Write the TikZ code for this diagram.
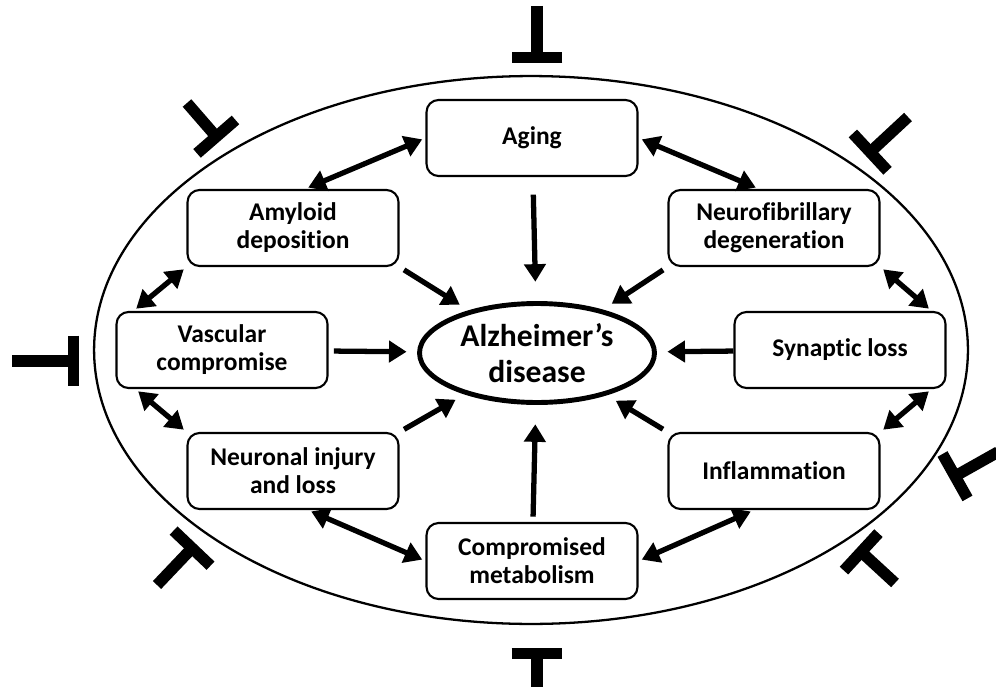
\documentclass[tikz,border=0pt]{standalone}
\usepackage{fontspec}
\setmainfont{Carlito}[Ligatures={TeX,NoCommon}]
\usetikzlibrary{arrows.meta,shapes.geometric}

\tikzset{
  factor/.style={rectangle, draw, rounded corners=0.24cm, line width=1.2pt,
    minimum width=4.22cm, minimum height=1.52cm, align=center,
    font=\fontsize{14.5}{16}\selectfont\bfseries},
  toad/.style={-{Triangle[length=10pt,width=12pt]}, line width=3pt,
    shorten <=3pt, shorten >=6pt},
  mutual/.style={{Triangle[length=10pt,width=12pt]}-{Triangle[length=10pt,width=12pt]},
    line width=3pt, shorten <=2pt, shorten >=2pt},
  block/.style={-{Bar[width=29pt]}, line width=6.5pt},
}

\begin{document}
\begin{tikzpicture}[x=0.02cm,y=-0.02cm]
	\useasboundingbox (0,0) rectangle (996,686);

	\node (field) at (531,350) [ellipse, draw, line width=1.3pt, inner sep=0pt,
		minimum width=17.48cm, minimum height=10.96cm] {};

	\node (ad) at (537,353) [ellipse, draw, line width=2.8pt, inner sep=0pt,
		minimum width=4.7cm, minimum height=1.98cm, align=center,
		font=\fontsize{18}{20.5}\selectfont\bfseries] {Alzheimer's\\disease};

	\node (aging)    at (532,138) [factor] {Aging};
	\node (amyloid)  at (293,228) [factor] {Amyloid\\deposition};
	\node (neuro)    at (774,228) [factor] {Neurofibrillary\\degeneration};
	\node (vascular) at (222,350) [factor] {Vascular\\compromise};
	\node (synaptic) at (840,350) [factor] {Synaptic loss};
	\node (neuronal) at (293,471) [factor] {Neuronal injury\\and loss};
	\node (inflam)   at (774,471) [factor] {Inflammation};
	\node (metab)    at (532,561) [factor] {Compromised\\metabolism};

	% causes pointing into the disease
	\draw[toad, shorten <=10pt, shorten >=11pt] (aging) -- (ad);
	\draw[toad] (amyloid.south east) -- (ad);
	\draw[toad] (neuro.south west) -- (ad);
	\draw[toad] (vascular) -- (ad);
	\draw[toad, shorten <=0pt] (synaptic) -- (ad);
	\draw[toad] (neuronal.north east) -- (ad);
	\draw[toad] (inflam.north west) -- (ad);
	\draw[toad, shorten >=11pt] (metab) -- (ad);

	% mutual links round the ring
	\draw[mutual] (aging.west) -- ([xshift=0.24cm]amyloid.north);
	\draw[mutual] (aging.east) -- ([xshift=-0.3cm]neuro.north);
	\draw[mutual] (amyloid.south west) -- ([xshift=0.36cm]vascular.north west);
	\draw[mutual] (neuro.south east) -- ([xshift=-0.3cm]synaptic.north east);
	\draw[mutual] ([xshift=0.4cm]vascular.south west) -- (neuronal.north west);
	\draw[mutual] ([xshift=-0.3cm]synaptic.south east) -- (inflam.north east);
	\draw[mutual] ([xshift=0.3cm]neuronal.south) -- (metab.west);
	\draw[mutual] (metab.east) -- ([xshift=-0.4cm]inflam.south);

	% inhibitors round the outside
	\foreach \sx/\sy/\ex/\ey in {537/6/537/63, 908/117/866/156, 998/452/950/479,
		895/583/857/548, 537/688/537/648, 157/585/196/544, 12/361/79/361, 187/103/220/141}
		\draw[block] (\sx,\sy) -- (\ex,\ey);

\end{tikzpicture}
\end{document}
